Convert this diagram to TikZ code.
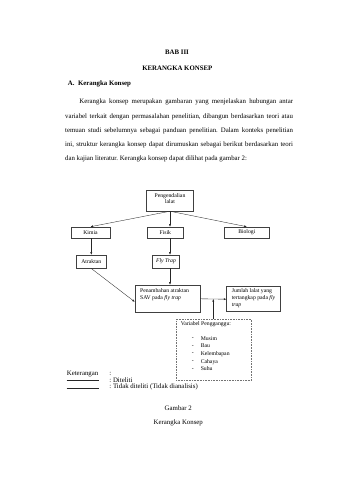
\documentclass[tikz,border=0pt]{standalone}
\usepackage{fontspec}
\setmainfont{Liberation Serif}
\usetikzlibrary{arrows.meta,calc}
\newdimen\pxu \pxu=1.755pt
\frenchspacing
\begin{document}
\begin{tikzpicture}[x=1.755pt,y=-1.755pt,
  box/.style={draw=black!75, line width=0.8pt, inner sep=0pt, font=\fontsize{10}{11.8}\selectfont},
  dotbox/.style={draw=black!55, dotted, line width=0.8pt, inner sep=0pt},
  arr/.style={-{Latex[length=4.5pt,width=3.5pt]}, line width=0.6pt, draw=black!85},
  body/.style={anchor=mid west, inner sep=0pt, font=\fontsize{12}{14}\selectfont},
  head/.style={anchor=mid, inner sep=0pt, font=\fontsize{12}{14}\selectfont\bfseries},
  dtext/.style={inner sep=0pt, font=\fontsize{10}{11.8}\selectfont},
  leg/.style={line width=0.6pt, draw=black!85}
]
\useasboundingbox[fill=white] (0,0) rectangle (339,480);

% headings
\node[head] (bab) at (177,53) {BAB III};
\node[head] (kk) at (177.3,69.3) {KERANGKA KONSEP};
\node[body, font=\fontsize{12}{14}\selectfont\bfseries] (sub) at (67.7,84) {A.\hspace{6.3pt}Kerangka Konsep};

% paragraph
\node[body] (p1) at (79.3,102.5) {\makebox[375pt][s]{Kerangka konsep merupakan gambaran yang menjelaskan hubungan antar}};
\node[body] (p2) at (65,116.7) {\makebox[400pt][s]{variabel terkait dengan permasalahan penelitian, dibangun berdasarkan teori atau}};
\node[body] (p3) at (65,130.9) {\makebox[400pt][s]{temuan studi sebelumnya sebagai panduan penelitian. Dalam konteks penelitian}};
\node[body] (p4) at (65,145.1) {\makebox[400pt][s]{ini, struktur kerangka konsep dapat dirumuskan sebagai berikut berdasarkan teori}};
\node[body] (p5) at (65,159.3) {dan kajian literatur. Kerangka konsep dapat dilihat pada gambar 2:};

% diagram boxes
\node[box, minimum width=46.6\pxu, minimum height=20.5\pxu] (peng) at (170,200.75) {};
\node[dtext, align=center] (pengt) at (170,198.5) {Pengendalian\\lalat};
\node[box, minimum width=39\pxu, minimum height=11.3\pxu] (kim) at (90.5,232.6) {Kimia};
\node[box, minimum width=36\pxu, minimum height=11.3\pxu] (fis) at (165.3,232.6) {Fisik};
\node[box, minimum width=45\pxu, minimum height=11.3\pxu] (bio) at (246.8,232.6) {Biologi};
\node[box, minimum width=30.7\pxu, minimum height=13.3\pxu] (atr) at (91.3,261.6) {Atraktan};
\node[box, minimum width=26.6\pxu, minimum height=13.3\pxu] (fly) at (166,261.6) {\textit{Fly Trap}};
\node[box, minimum width=65\pxu, minimum height=27.7\pxu] (pen) at (167.5,298.8) {};
\node[dtext, anchor=north west, align=left] (pent) at (140,288.5) {Penambahan atraktan\\SAV pada \textit{fly trap}};
\node[box, minimum width=53.3\pxu, minimum height=25\pxu] (jum) at (253.3,299.2) {};
\node[dtext, anchor=north west, align=left, font=\fontsize{10}{12.3}\selectfont] (jumt) at (231.7,288.5) {Jumlah lalat yang\\tertangkap pada \textit{fly}\\\textit{trap}};
\node[dotbox, minimum width=75.7\pxu, minimum height=60.7\pxu] (var) at (213.8,349.6) {};
\node[dtext, anchor=mid west] (vart) at (180.7,324) {Variabel Pengganggu:};
\foreach \t/\yy/\n in {Musim/339/1, Bau/346.5/2, Kelembapan/354/3, Cahaya/361.7/4, Suhu/369.3/5}{
  \node[dtext] (b\n) at (192.7,\yy) {-};
  \node[dtext, anchor=mid west] (v\n) at (200.7,\yy) {\t};
}

% connectors
\draw[arr] (peng.south) -- (kim.north);
\draw[arr] (peng.south) -- (peng.south |- fis.north);
\draw[arr] (peng.south) -- (bio.north);
\draw[arr] (kim.south -| atr.north) -- (atr.north);
\draw[arr] (fis.south -| peng.south) -- (fly.north -| peng.south);
\draw[arr] (fly.south -| peng.south) -- (pen.north -| peng.south);
\draw[arr] (atr.south) -- ($(pen.west)+(0,3)$);
\draw[arr] (pen.east) -- (jum.west);
\coordinate (jn) at (213.3,299);
\draw[arr] (var.north -| jn) -- (jn);

% legend
\node[body, font=\fontsize{12}{12}\selectfont] (ket) at (66.7,374.5) {Keterangan};
\node[body, font=\fontsize{12}{12}\selectfont] (col) at (109.3,374.5) {:};
\coordinate (l1a) at (66.5,380.7); \coordinate (l1b) at (99,380.7);
\coordinate (l2a) at (66.5,388); \coordinate (l2b) at (99,388);
\draw[leg, line width=0.9pt] (l1a) -- (l1b);
\draw[leg, line width=0.5pt] (l2a) -- (l2b);
\node[body, font=\fontsize{12}{12}\selectfont] (dit) at (109.3,381.5) {: Diteliti};
\node[body, font=\fontsize{12}{12}\selectfont] (tdt) at (109.3,387.5) {: Tidak diteliti (Tidak dianalisis)};

% caption
\node[head, font=\fontsize{12}{14}\selectfont] (gb) at (178.3,409.3) {Gambar 2};
\node[head, font=\fontsize{12}{14}\selectfont] (gbk) at (178.3,423.3) {Kerangka Konsep};
\end{tikzpicture}
\end{document}
